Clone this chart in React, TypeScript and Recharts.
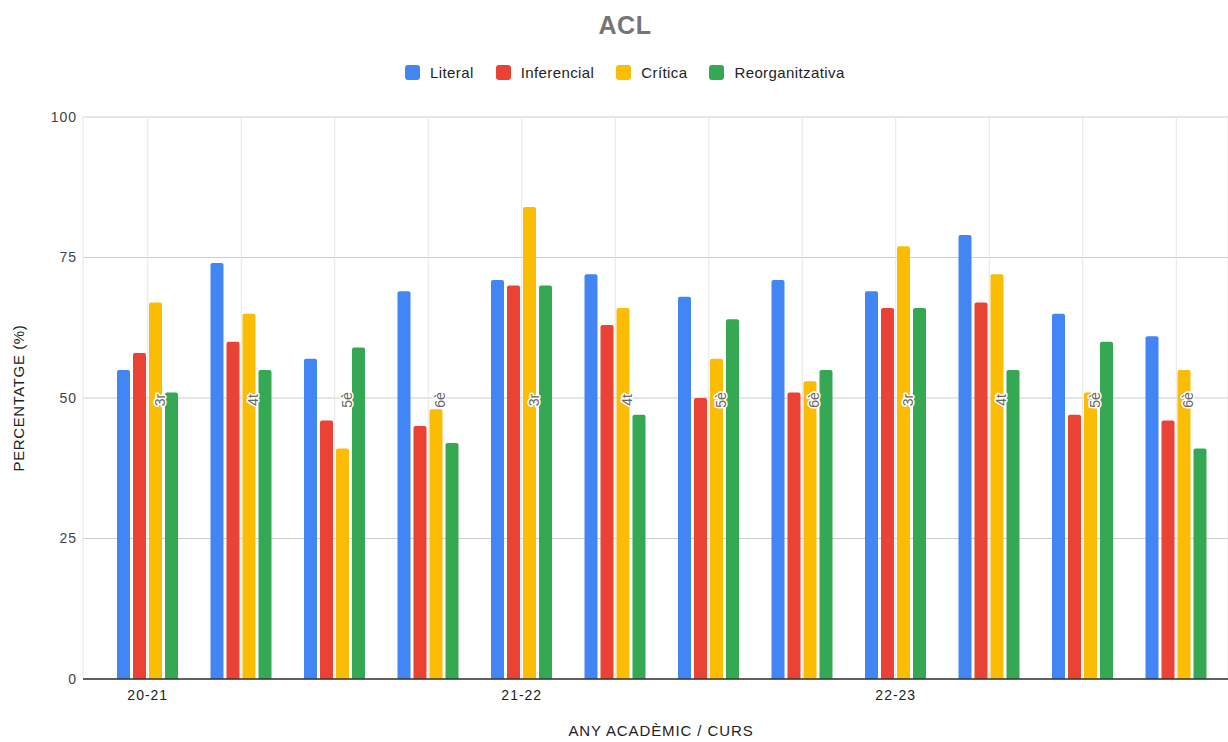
import React from "react";
import { BarChart, Bar, XAxis, YAxis, CartesianGrid } from "recharts";

// course inside each academic year
const courses = ["3r", "4t", "5è", "6è", "3r", "4t", "5è", "6è", "3r", "4t", "5è", "6è"];
// academic year label, only on the first course of each year
const years = ["20-21", "", "", "", "21-22", "", "", "", "22-23", "", "", ""];

const literal = [55, 74, 57, 69, 71, 72, 68, 71, 69, 79, 65, 61];
const inferencial = [58, 60, 46, 45, 70, 63, 50, 51, 66, 67, 47, 46];
const critica = [67, 65, 41, 48, 84, 66, 57, 53, 77, 72, 51, 55];
const reorganitzativa = [51, 55, 59, 42, 70, 47, 64, 55, 66, 55, 60, 41];

const yTicks = [0, 25, 50, 75, 100];

const series = [
  { key: "literal", name: "Literal", color: "#4285F4" },
  { key: "inferencial", name: "Inferencial", color: "#EA4335" },
  { key: "critica", name: "Crítica", color: "#FBBC04" },
  { key: "reorganitzativa", name: "Reorganitzativa", color: "#34A853" }
];

const data = courses.map((c, i) => ({
  key: String(i),
  literal: literal[i],
  inferencial: inferencial[i],
  critica: critica[i],
  reorganitzativa: reorganitzativa[i]
}));

const FONT = "Arial, 'Liberation Sans', sans-serif";

// draws the year under the axis and the rotated course name in the middle of the plot
const GroupTick = (props: any) => {
  const { x, y, payload } = props;
  const i = Number(payload.value);
  const cx = x + 12;
  const cy = y - 281;
  return (
    <g>
      {years[i] && (
        <text
          x={x}
          y={y + 19}
          textAnchor="middle"
          fontSize={14}
          letterSpacing={1}
          fill="#222"
          fontFamily={FONT}
        >
          {years[i]}
        </text>
      )}
      <text
        x={cx}
        y={cy}
        transform={`rotate(-90, ${cx}, ${cy})`}
        textAnchor="middle"
        dominantBaseline="central"
        fontSize={14}
        fill="#666"
        stroke="#fff"
        strokeWidth={3}
        strokeLinejoin="round"
        paintOrder="stroke"
        fontFamily={FONT}
      >
        {courses[i]}
      </text>
    </g>
  );
};

export default function App() {
  return (
    <div style={{ position: "relative", width: 1228, height: 742, fontFamily: FONT, background: "#fff" }}>
      <style>{`body{margin:0}`}</style>
      <div
        style={{
          position: "absolute",
          top: 11,
          left: 525,
          width: 200,
          textAlign: "center",
          fontSize: 25,
          fontWeight: "bold",
          letterSpacing: 0.5,
          color: "#757575"
        }}
      >
        ACL
      </div>
      <div
        style={{
          position: "absolute",
          top: 64,
          left: 405,
          display: "flex",
          alignItems: "center",
          fontSize: 15,
          letterSpacing: 0.4,
          color: "#222"
        }}
      >
        {series.map((s) => (
          <div key={s.key} style={{ display: "flex", alignItems: "center", marginRight: 22 }}>
            <span
              style={{
                display: "inline-block",
                width: 15,
                height: 15,
                borderRadius: 3,
                background: s.color,
                marginRight: 10
              }}
            />
            {s.name}
          </div>
        ))}
      </div>
      <div
        style={{
          position: "absolute",
          left: 18,
          top: 398,
          transform: "translate(-50%, -50%) rotate(-90deg)",
          whiteSpace: "nowrap",
          fontSize: 15,
          letterSpacing: 0.6,
          color: "#222"
        }}
      >
        PERCENTATGE (%)
      </div>
      <div
        style={{
          position: "absolute",
          left: 511,
          width: 300,
          top: 722,
          textAlign: "center",
          fontSize: 15,
          letterSpacing: 0.9,
          color: "#222"
        }}
      >
        ANY ACADÈMIC / CURS
      </div>
      <BarChart
        width={1228}
        height={742}
        data={data}
        margin={{ top: 117, right: 0, bottom: 0, left: 0 }}
        barCategoryGap={16}
        barGap={3}
      >
        <CartesianGrid vertical={false} stroke="#cccccc" />
        <CartesianGrid horizontal={false} stroke="#e6e6e6" />
        <XAxis
          dataKey="key"
          height={63}
          padding={{ left: 18, right: 5 }}
          tickLine={false}
          tickSize={0}
          axisLine={{ stroke: "#333", strokeWidth: 1.5 }}
          tick={<GroupTick />}
          interval={0}
        />
        <YAxis
          width={83}
          domain={[0, 100]}
          ticks={yTicks}
          tickLine={false}
          tickSize={0}
          tickMargin={6}
          axisLine={false}
          tick={{ fontSize: 14, fill: "#444", fontFamily: FONT, letterSpacing: 1 }}
        />
        {series.map((s) => (
          <Bar
            key={s.key}
            dataKey={s.key}
            name={s.name}
            fill={s.color}
            radius={[2, 2, 0, 0]}
            isAnimationActive={false}
          />
        ))}
      </BarChart>
    </div>
  );
}
